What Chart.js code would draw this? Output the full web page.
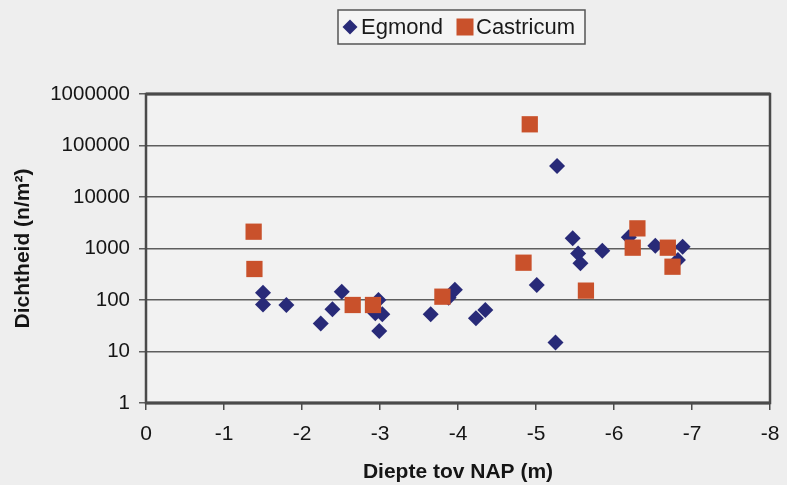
<!DOCTYPE html>
<html>
<head>
<meta charset="utf-8">
<script src="https://cdn.jsdelivr.net/npm/chart.js@4.4.1/dist/chart.umd.min.js"></script>
<style>
  html, body { margin: 0; padding: 0; background: #eeeeee; }
  #wrap { width: 787px; height: 485px; }
</style>
</head>
<body>
<div id="wrap"><canvas id="c" width="787" height="485"></canvas></div>
<script>
// ---- Data ----
const seriesNames = ["Egmond", "Castricum"];

const egmondDepth = [-1.50, -1.50, -1.80, -2.24, -2.39, -2.51, -2.98, -2.94, -3.03, -2.99, -3.65, -3.88, -3.96, -4.23, -4.35, -5.01, -5.27, -5.25, -5.47, -5.54, -5.57, -5.85, -6.19, -6.53, -6.88, -6.82];
const egmondDensity = [139, 82, 80, 35, 66, 145, 100, 55, 53, 25, 53, 110, 158, 44, 64, 195, 40000, 15, 1580, 800, 516, 906, 1650, 1135, 1084, 598];

const castricumDepth = [-1.38, -1.39, -2.65, -2.91, -3.80, -4.92, -4.84, -5.64, -6.30, -6.24, -6.69, -6.75];
const castricumDensity = [2120, 400, 80, 80, 116, 258000, 530, 152, 2460, 1037, 1037, 443];

const yTickValues = [1, 10, 100, 1000, 10000, 100000, 1000000];
const xTitle = "Diepte tov NAP (m)";
const yTitle = "Dichtheid (n/m\u00B2)";

// ---- Styling ----
const FONT = '"Liberation Sans", Arial, sans-serif';
const colors = { Egmond: "#282a78", Castricum: "#c9512b" };

function toPoints(xs, ys) { return xs.map((x, i) => ({ x: x, y: ys[i] })); }

const bgPlugin = {
  id: "bg",
  beforeDraw(chart) {
    const ctx = chart.ctx, a = chart.chartArea;
    ctx.save();
    ctx.fillStyle = "#eeeeee";
    ctx.fillRect(0, 0, chart.width, chart.height);
    ctx.fillStyle = "#f2f2f2";
    ctx.fillRect(a.left, a.top, a.right - a.left, a.bottom - a.top);
    ctx.restore();
  },
  beforeDatasetsDraw(chart) {
    const ctx = chart.ctx, a = chart.chartArea;
    ctx.save();
    ctx.strokeStyle = "#4a4a4a";
    ctx.lineWidth = 2.5;
    ctx.strokeRect(a.left, a.top, a.right - a.left, a.bottom - a.top);
    ctx.lineWidth = 3;
    ctx.beginPath();
    ctx.moveTo(a.left, a.top); ctx.lineTo(a.right, a.top);
    ctx.moveTo(a.left, a.bottom); ctx.lineTo(a.right, a.bottom);
    ctx.stroke();
    ctx.restore();
  }
};

function drawMarker(ctx, style, x, y, r, color) {
  ctx.save();
  ctx.fillStyle = color;
  ctx.beginPath();
  if (style === "rectRot") {
    ctx.moveTo(x - r, y); ctx.lineTo(x, y - r); ctx.lineTo(x + r, y); ctx.lineTo(x, y + r);
  } else {
    ctx.rect(x - r, y - r, 2 * r, 2 * r);
  }
  ctx.closePath();
  ctx.fill();
  ctx.restore();
}

const legendPlugin = {
  id: "boxLegend",
  afterDraw(chart) {
    const ctx = chart.ctx;
    ctx.save();
    ctx.fillStyle = "#f4f4f4";
    ctx.fillRect(338, 10, 247, 34);
    ctx.strokeStyle = "#555555";
    ctx.lineWidth = 1.5;
    ctx.strokeRect(338, 10, 247, 34);
    ctx.font = "22px " + FONT;
    ctx.fillStyle = "#1a1a1a";
    ctx.textBaseline = "middle";
    drawMarker(ctx, "rectRot", 350, 27, 7.5, colors.Egmond);
    ctx.fillText(seriesNames[0], 361, 28);
    drawMarker(ctx, "rect", 465, 27, 8.5, colors.Castricum);
    ctx.fillStyle = "#1a1a1a";
    ctx.fillText(seriesNames[1], 476, 28);
    ctx.restore();
  }
};

new Chart(document.getElementById("c"), {
  type: "scatter",
  data: {
    datasets: [
      {
        label: seriesNames[0],
        data: toPoints(egmondDepth, egmondDensity),
        pointStyle: "rectRot",
        pointRadius: 8,
        pointHoverRadius: 8,
        backgroundColor: colors.Egmond,
        borderColor: colors.Egmond,
        borderWidth: 0,
        order: 1
      },
      {
        label: seriesNames[1],
        data: toPoints(castricumDepth, castricumDensity),
        pointStyle: "rect",
        pointRadius: 11.5,
        pointHoverRadius: 11.5,
        backgroundColor: colors.Castricum,
        borderColor: colors.Castricum,
        borderWidth: 0,
        order: 0
      }
    ]
  },
  options: {
    responsive: false,
    devicePixelRatio: 1,
    animation: false,
    layout: { padding: { top: 94, right: 17, bottom: 0, left: 0 } },
    plugins: { legend: { display: false }, tooltip: { enabled: false } },
    scales: {
      x: {
        type: "linear",
        min: -8,
        max: 0,
        reverse: true,
        afterFit(s) { s.height = 82; s.paddingLeft = 0; s.paddingRight = 0; },
        ticks: { stepSize: 1, color: "#151515", font: { family: FONT, size: 21 }, padding: 12, maxRotation: 0 },
        grid: { drawOnChartArea: false, drawTicks: true, tickLength: 7, color: "#4a4a4a", lineWidth: 1.5 },
        border: { display: false },
        title: { display: true, text: xTitle, color: "#151515", font: { family: FONT, size: 21, weight: "bold" }, padding: { top: 0, bottom: 0 } }
      },
      y: {
        type: "logarithmic",
        min: 1,
        max: 1000000,
        afterFit(s) { s.width = 146; s.paddingTop = 0; s.paddingBottom = 0; },
        afterBuildTicks(s) { s.ticks = yTickValues.map(v => ({ value: v })); },
        ticks: { color: "#151515", font: { family: FONT, size: 20.5 }, padding: 9, callback: (v) => String(v) },
        grid: { color: "#5e5e5e", lineWidth: 1.5, tickLength: 7 },
        border: { display: false },
        title: { display: true, text: yTitle, color: "#151515", font: { family: FONT, size: 21, weight: "bold" }, padding: { top: 11, bottom: 0 } }
      }
    }
  },
  plugins: [bgPlugin, legendPlugin]
});
</script>
</body>
</html>
